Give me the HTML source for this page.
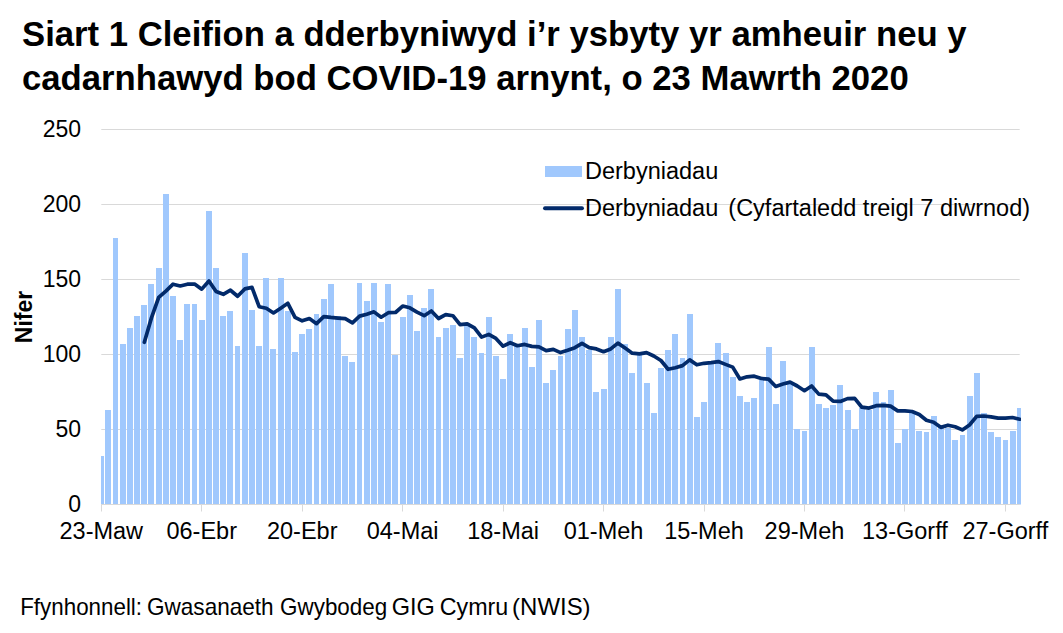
<!DOCTYPE html>
<html><head><meta charset="utf-8"><style>
html,body{margin:0;padding:0;background:#fff;width:1063px;height:633px;overflow:hidden}
svg{position:absolute;left:0;top:0}
text{font-family:"Liberation Sans",sans-serif;fill:#000}
</style></head><body>
<svg width="1063" height="633" viewBox="0 0 1063 633">
<g font-weight="bold" font-size="34.7">
<text x="22" y="45.6">Siart 1 Cleifion a dderbyniwyd i’r ysbyty yr amheuir neu y</text>
<text x="22" y="90.4">cadarnhawyd bod COVID-19 arnynt, o 23 Mawrth 2020</text>
</g>
<g stroke="#d9d9d9" stroke-width="1"><line x1="101.3" y1="429.5" x2="1019.7" y2="429.5"/><line x1="101.3" y1="354.5" x2="1019.7" y2="354.5"/><line x1="101.3" y1="279.5" x2="1019.7" y2="279.5"/><line x1="101.3" y1="204.5" x2="1019.7" y2="204.5"/><line x1="101.3" y1="129.5" x2="1019.7" y2="129.5"/></g>
<g fill="#a0c8fd"><rect x="101" y="456.00" width="3" height="48.50"/><rect x="105" y="410.00" width="6" height="94.50"/><rect x="113" y="238.00" width="5" height="266.50"/><rect x="120" y="344.00" width="6" height="160.50"/><rect x="127" y="328.00" width="6" height="176.50"/><rect x="134" y="316.00" width="6" height="188.50"/><rect x="141" y="305.00" width="6" height="199.50"/><rect x="148" y="284.00" width="6" height="220.50"/><rect x="156" y="268.00" width="6" height="236.50"/><rect x="163" y="194.00" width="6" height="310.50"/><rect x="170" y="296.00" width="6" height="208.50"/><rect x="177" y="340.00" width="6" height="164.50"/><rect x="184" y="304.00" width="6" height="200.50"/><rect x="192" y="304.00" width="5" height="200.50"/><rect x="199" y="320.00" width="6" height="184.50"/><rect x="206" y="211.00" width="6" height="293.50"/><rect x="213" y="268.00" width="6" height="236.50"/><rect x="220" y="316.00" width="6" height="188.50"/><rect x="227" y="311.00" width="6" height="193.50"/><rect x="235" y="346.00" width="5" height="158.50"/><rect x="242" y="253.00" width="6" height="251.50"/><rect x="249" y="310.00" width="6" height="194.50"/><rect x="256" y="346.00" width="6" height="158.50"/><rect x="263" y="278.00" width="6" height="226.50"/><rect x="270" y="349.00" width="6" height="155.50"/><rect x="278" y="278.00" width="6" height="226.50"/><rect x="285" y="311.00" width="6" height="193.50"/><rect x="292" y="352.00" width="6" height="152.50"/><rect x="299" y="334.00" width="6" height="170.50"/><rect x="306" y="329.00" width="6" height="175.50"/><rect x="314" y="314.00" width="5" height="190.50"/><rect x="321" y="299.00" width="6" height="205.50"/><rect x="328" y="284.00" width="6" height="220.50"/><rect x="335" y="316.00" width="6" height="188.50"/><rect x="342" y="356.00" width="6" height="148.50"/><rect x="349" y="362.00" width="6" height="142.50"/><rect x="357" y="283.00" width="5" height="221.50"/><rect x="364" y="301.00" width="6" height="203.50"/><rect x="371" y="283.00" width="6" height="221.50"/><rect x="378" y="322.00" width="6" height="182.50"/><rect x="385" y="284.00" width="6" height="220.50"/><rect x="392" y="355.00" width="6" height="149.50"/><rect x="400" y="317.00" width="6" height="187.50"/><rect x="407" y="295.00" width="6" height="209.50"/><rect x="414" y="331.00" width="6" height="173.50"/><rect x="421" y="308.00" width="6" height="196.50"/><rect x="428" y="289.00" width="6" height="215.50"/><rect x="436" y="337.00" width="5" height="167.50"/><rect x="443" y="328.00" width="6" height="176.50"/><rect x="450" y="325.00" width="6" height="179.50"/><rect x="457" y="358.00" width="6" height="146.50"/><rect x="464" y="325.00" width="6" height="179.50"/><rect x="471" y="337.00" width="6" height="167.50"/><rect x="479" y="353.00" width="5" height="151.50"/><rect x="486" y="317.00" width="6" height="187.50"/><rect x="493" y="356.00" width="6" height="148.50"/><rect x="500" y="379.00" width="6" height="125.50"/><rect x="507" y="334.00" width="6" height="170.50"/><rect x="514" y="346.00" width="6" height="158.50"/><rect x="522" y="328.00" width="6" height="176.50"/><rect x="529" y="367.00" width="6" height="137.50"/><rect x="536" y="320.00" width="6" height="184.50"/><rect x="543" y="383.00" width="6" height="121.50"/><rect x="550" y="370.00" width="6" height="134.50"/><rect x="558" y="356.00" width="5" height="148.50"/><rect x="565" y="329.00" width="6" height="175.50"/><rect x="572" y="310.00" width="6" height="194.50"/><rect x="579" y="337.00" width="6" height="167.50"/><rect x="586" y="350.00" width="6" height="154.50"/><rect x="593" y="392.00" width="6" height="112.50"/><rect x="601" y="389.00" width="6" height="115.50"/><rect x="608" y="337.00" width="6" height="167.50"/><rect x="615" y="289.00" width="6" height="215.50"/><rect x="622" y="344.00" width="6" height="160.50"/><rect x="629" y="373.00" width="6" height="131.50"/><rect x="637" y="355.00" width="5" height="149.50"/><rect x="644" y="383.00" width="6" height="121.50"/><rect x="651" y="413.00" width="6" height="91.50"/><rect x="658" y="368.00" width="6" height="136.50"/><rect x="665" y="350.00" width="6" height="154.50"/><rect x="672" y="334.00" width="6" height="170.50"/><rect x="680" y="358.00" width="5" height="146.50"/><rect x="687" y="314.00" width="6" height="190.50"/><rect x="694" y="417.00" width="6" height="87.50"/><rect x="701" y="402.00" width="6" height="102.50"/><rect x="708" y="364.00" width="6" height="140.50"/><rect x="715" y="343.00" width="6" height="161.50"/><rect x="723" y="353.00" width="6" height="151.50"/><rect x="730" y="377.00" width="6" height="127.50"/><rect x="737" y="396.00" width="6" height="108.50"/><rect x="744" y="402.00" width="6" height="102.50"/><rect x="751" y="398.00" width="6" height="106.50"/><rect x="759" y="380.00" width="5" height="124.50"/><rect x="766" y="347.00" width="6" height="157.50"/><rect x="773" y="404.00" width="6" height="100.50"/><rect x="780" y="361.00" width="6" height="143.50"/><rect x="787" y="383.00" width="6" height="121.50"/><rect x="794" y="429.00" width="6" height="75.50"/><rect x="802" y="431.00" width="5" height="73.50"/><rect x="809" y="347.00" width="6" height="157.50"/><rect x="816" y="404.00" width="6" height="100.50"/><rect x="823" y="408.00" width="6" height="96.50"/><rect x="830" y="405.00" width="6" height="99.50"/><rect x="837" y="385.00" width="6" height="119.50"/><rect x="845" y="410.00" width="6" height="94.50"/><rect x="852" y="429.00" width="6" height="75.50"/><rect x="859" y="408.00" width="6" height="96.50"/><rect x="866" y="410.00" width="6" height="94.50"/><rect x="873" y="392.00" width="6" height="112.50"/><rect x="881" y="402.00" width="5" height="102.50"/><rect x="888" y="390.00" width="6" height="114.50"/><rect x="895" y="443.00" width="6" height="61.50"/><rect x="902" y="429.00" width="6" height="75.50"/><rect x="909" y="413.00" width="6" height="91.50"/><rect x="916" y="431.00" width="6" height="73.50"/><rect x="924" y="432.00" width="5" height="72.50"/><rect x="931" y="416.00" width="6" height="88.50"/><rect x="938" y="426.00" width="6" height="78.50"/><rect x="945" y="428.00" width="6" height="76.50"/><rect x="952" y="440.00" width="6" height="64.50"/><rect x="960" y="435.00" width="5" height="69.50"/><rect x="967" y="396.00" width="6" height="108.50"/><rect x="974" y="373.00" width="6" height="131.50"/><rect x="981" y="413.00" width="6" height="91.50"/><rect x="988" y="432.00" width="6" height="72.50"/><rect x="995" y="437.00" width="6" height="67.50"/><rect x="1003" y="440.00" width="5" height="64.50"/><rect x="1010" y="431.00" width="6" height="73.50"/><rect x="1017" y="408.00" width="4" height="96.50"/></g>
<g stroke="#d9d9d9" stroke-width="1">
<line x1="101.3" y1="504.5" x2="1019.7" y2="504.5"/>
<line x1="101.50" y1="504.5" x2="101.50" y2="511.5"/><line x1="201.50" y1="504.5" x2="201.50" y2="511.5"/><line x1="302.50" y1="504.5" x2="302.50" y2="511.5"/><line x1="402.50" y1="504.5" x2="402.50" y2="511.5"/><line x1="503.50" y1="504.5" x2="503.50" y2="511.5"/><line x1="603.50" y1="504.5" x2="603.50" y2="511.5"/><line x1="704.50" y1="504.5" x2="704.50" y2="511.5"/><line x1="804.50" y1="504.5" x2="804.50" y2="511.5"/><line x1="904.50" y1="504.5" x2="904.50" y2="511.5"/><line x1="1005.50" y1="504.5" x2="1005.50" y2="511.5"/>
</g>
<defs><clipPath id="pc"><rect x="90" y="100" width="931" height="420"/></clipPath></defs>
<polyline clip-path="url(#pc)" fill="none" stroke="#022a6a" stroke-width="3.7" stroke-linejoin="round" stroke-linecap="round" points="144.35,342.29 151.53,317.64 158.70,297.29 165.88,291.07 173.05,284.21 180.23,285.93 187.40,284.21 194.57,284.00 201.75,289.14 208.93,281.00 216.10,291.50 223.28,294.29 230.45,290.21 237.62,296.21 244.80,288.93 251.98,287.43 259.15,306.71 266.32,308.21 273.50,312.93 280.68,308.21 287.85,303.29 295.03,317.43 302.20,320.86 309.38,318.50 316.55,323.64 323.73,316.57 330.90,317.43 338.08,318.07 345.25,318.71 352.43,322.79 359.60,316.14 366.78,314.21 373.95,311.86 381.13,317.21 388.30,312.71 395.48,312.50 402.65,306.07 409.83,307.79 417.00,312.07 424.18,315.71 431.35,311.00 438.53,318.50 445.70,314.64 452.88,315.71 460.05,324.71 467.23,323.86 474.40,327.93 481.58,337.14 488.75,334.36 495.93,338.43 503.10,346.14 510.28,342.71 517.45,345.71 524.62,344.43 531.80,346.36 538.98,346.79 546.15,350.64 553.33,349.36 560.50,352.57 567.68,350.21 574.85,347.64 582.02,343.36 589.20,347.64 596.38,348.93 603.55,351.71 610.73,348.93 617.90,343.14 625.08,348.07 632.25,353.21 639.42,353.86 646.60,352.57 653.77,356.00 660.95,360.50 668.12,369.29 675.30,367.79 682.48,365.64 689.65,359.86 696.83,364.79 704.00,363.29 711.18,362.64 718.35,361.57 725.52,364.36 732.70,367.14 739.88,378.93 747.05,376.79 754.23,376.14 761.40,378.50 768.58,379.14 775.75,386.43 782.93,384.07 790.10,382.14 797.27,386.00 804.45,390.71 811.62,386.00 818.80,394.14 825.98,394.79 833.15,401.21 840.33,401.43 847.50,398.64 854.68,398.43 861.85,407.21 869.02,408.07 876.20,405.71 883.38,405.29 890.55,406.14 897.73,410.86 904.90,410.86 912.08,411.50 919.25,414.50 926.43,420.29 933.60,422.21 940.78,427.36 947.95,425.21 955.12,426.71 962.30,429.93 969.48,425.00 976.65,416.43 983.83,416.00 991.00,416.86 998.18,418.14 1005.35,418.14 1012.53,417.50 1019.70,419.21"/>
<g font-size="23" text-anchor="end"><text x="81" y="512.00">0</text><text x="81" y="437.00">50</text><text x="81" y="362.00">100</text><text x="81" y="287.00">150</text><text x="81" y="212.00">200</text><text x="81" y="137.00">250</text></g>
<g font-size="23.5" text-anchor="middle"><text x="101.30" y="539">23-Maw</text><text x="201.75" y="539">06-Ebr</text><text x="302.20" y="539">20-Ebr</text><text x="402.65" y="539">04-Mai</text><text x="503.10" y="539">18-Mai</text><text x="603.55" y="539">01-Meh</text><text x="704.00" y="539">15-Meh</text><text x="804.45" y="539">29-Meh</text><text x="904.90" y="539">13-Gorff</text><text x="1005.35" y="539">27-Gorff</text></g>
<text font-size="23" font-weight="bold" transform="translate(32.2 317) rotate(-90)" text-anchor="middle">Nifer</text>
<rect x="545" y="166" width="37" height="11" fill="#a0c8fd"/>
<line x1="545" y1="208.3" x2="582" y2="208.3" stroke="#022a6a" stroke-width="3.9" stroke-linecap="round"/>
<g font-size="23.5">
<text x="585" y="178.8">Derbyniadau</text>
<text x="585" y="215.9" xml:space="preserve">Derbyniadau<tspan dx="-3">  (Cyfartaledd treigl 7 diwrnod)</tspan></text>
</g>
<g font-size="23.6"><text transform="translate(20.2 614.9) scale(0.948 1)">Ffynhonnell:</text><text transform="translate(147.0 614.9) scale(0.956 1)">Gwasanaeth</text><text transform="translate(280.1 614.9) scale(0.95 1)">Gwybodeg</text><text transform="translate(391.7 614.9) scale(0.996 1)">GIG</text><text transform="translate(439.7 614.9) scale(0.987 1)">Cymru</text><text transform="translate(512.1 614.9) scale(1.016 1)">(NWIS)</text></g>
</svg>
</body></html>
